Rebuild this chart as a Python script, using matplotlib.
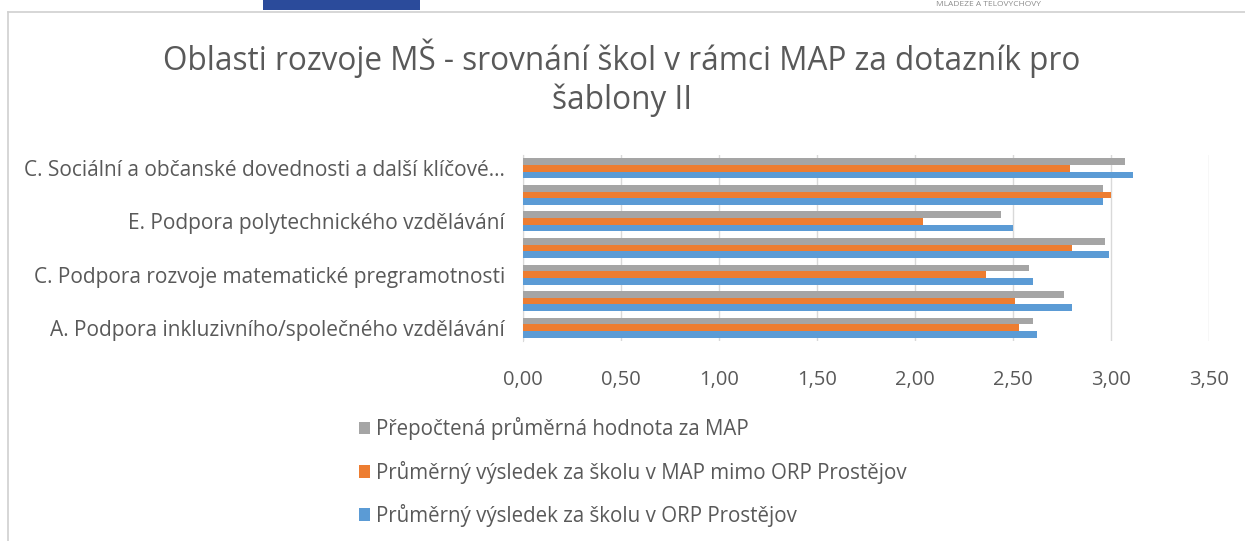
import matplotlib
matplotlib.use("Agg")
import matplotlib.pyplot as plt
from matplotlib.lines import Line2D
from matplotlib.patches import Rectangle, Patch
from matplotlib.ticker import FuncFormatter, MultipleLocator

# categories bottom -> top; every other label is skipped on the axis
CATEGORY_LABELS = [
    "A. Podpora inkluzivního/společného vzdělávání",
    "",
    "C. Podpora rozvoje matematické pregramotnosti",
    "",
    "E. Podpora polytechnického vzdělávání",
    "",
    "C. Sociální a občanské dovednosti a další klíčové…",
]

ORP_PROSTEJOV = [2.62, 2.80, 2.60, 2.99, 2.50, 2.96, 3.11]
MAP_MIMO_ORP = [2.53, 2.51, 2.36, 2.80, 2.04, 3.00, 2.79]
MAP_PREPOCET = [2.60, 2.76, 2.58, 2.97, 2.44, 2.96, 3.07]

SERIES = [
    ("Průměrný výsledek za školu v ORP Prostějov", ORP_PROSTEJOV, "#5b9bd5"),
    ("Průměrný výsledek za školu v MAP mimo ORP Prostějov", MAP_MIMO_ORP, "#ed7d31"),
    ("Přepočtená průměrná hodnota za MAP", MAP_PREPOCET, "#a5a5a5"),
]

TITLE = "Oblasti rozvoje MŠ - srovnání škol v rámci MAP za dotazník pro\nšablony II"
TEXT_COLOR = "#595959"
FONT = ["Open Sans", "DejaVu Sans"]

W, H = 1245, 541
fig = plt.figure(figsize=(W / 100, H / 100), dpi=100)
plt.rcParams["font.family"] = FONT


def px(x, y):
    return x / W, 1 - y / H


# page header remnants and chart frame
fig.add_artist(Rectangle(px(263, 10), 157 / W, 10 / H, transform=fig.transFigure,
                         facecolor="#2b4b9b", edgecolor="none"))
fig.text(*px(988, 1), "MLÁDEŽE A TĚLOVÝCHOVY", ha="center", va="top",
         fontsize=6, color="#8c8c8c")
fig.add_artist(Line2D([8 / W, 1], [1 - 11.5 / H] * 2, transform=fig.transFigure,
                      color="#d0d0d0", lw=1.2))
fig.add_artist(Line2D([8 / W] * 2, [0, 1 - 11.5 / H], transform=fig.transFigure,
                      color="#d0d0d0", lw=1.2))

fig.text(*px(622, 78), TITLE, ha="center", va="center", fontsize=22.7,
         color=TEXT_COLOR, linespacing=1.2)

ax = fig.add_axes([523 / W, 1 - 341 / H, 686 / W, 186 / H])
ys = list(range(len(CATEGORY_LABELS)))
bar_h = 0.25
offsets = [-bar_h, 0, bar_h]
for (name, vals, color), off in zip(SERIES, offsets):
    ax.barh([y + off for y in ys], vals, height=bar_h, color=color, label=name, zorder=3)

ax.set_xlim(0, 3.5)
ax.set_ylim(-0.5, len(CATEGORY_LABELS) - 0.5)
ax.xaxis.set_major_locator(MultipleLocator(0.5))
ax.xaxis.set_major_formatter(FuncFormatter(lambda v, _: f"{v:.2f}".replace(".", ",")))
ax.set_yticks(ys)
ax.set_yticklabels(CATEGORY_LABELS)
ax.tick_params(axis="both", length=0, labelcolor=TEXT_COLOR)
ax.tick_params(axis="x", pad=21, labelsize=14.5)
ax.tick_params(axis="y", pad=13, labelsize=15)
ax.grid(True, axis="x", color="#d9d9d9", lw=1, zorder=0)
for side in ("top", "right", "bottom"):
    ax.spines[side].set_visible(False)
ax.spines["left"].set_color("#d9d9d9")

handles = [Patch(facecolor=c, edgecolor="none", label=n) for n, _, c in reversed(SERIES)]
fig.legend(handles=handles, loc="upper left", bbox_to_anchor=px(340, 399),
           frameon=False, fontsize=14.8, labelcolor=TEXT_COLOR, handlelength=0.55,
           handleheight=0.55, handletextpad=0.3, labelspacing=0.98)

fig.savefig("out.png", dpi=100)
